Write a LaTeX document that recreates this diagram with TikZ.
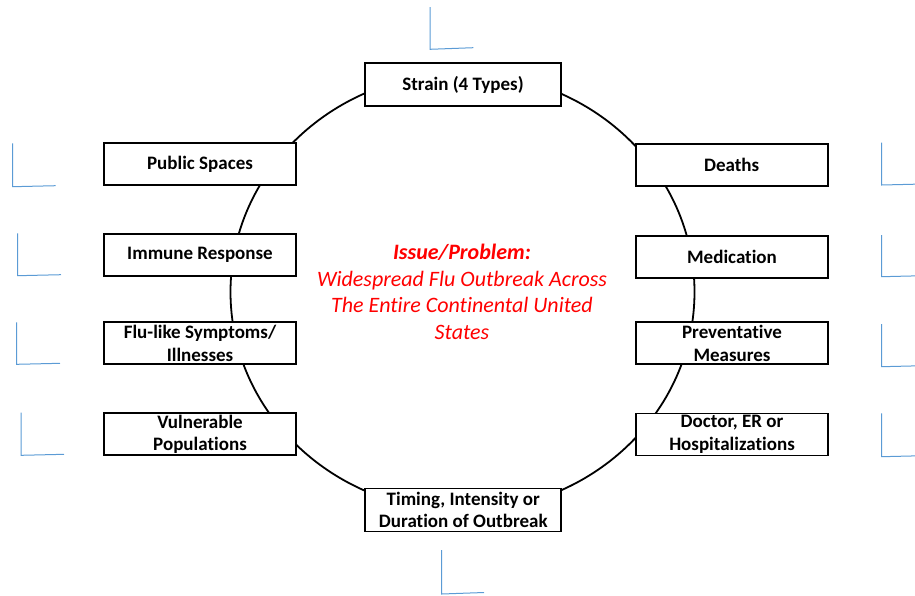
\documentclass[tikz,border=0pt]{standalone}
\usepackage{fontspec}
\setmainfont{Carlito}[Ligatures=NoCommon]
\begin{document}
\begin{tikzpicture}[x=1pt,y=-1pt,
  box/.style={draw=black, line width=1.8pt, fill=white, minimum width=192pt,
    minimum height=42pt, inner sep=0pt, align=center,
    font=\bfseries\fontsize{19}{22.5}\selectfont},
  widebox/.style={box, minimum width=196pt, minimum height=43pt},
  ring/.style={draw=black, line width=1.8pt},
  anchormark/.style={draw={rgb,255:red,91;green,155;blue,213}, line width=1pt},
  issuetext/.style={text={rgb,255:red,255;green,0;blue,0}, align=center,
    font=\itshape\fontsize{22}{26.5}\selectfont}]
\useasboundingbox (0,0) rectangle (915,595);

% ring behind the boxes
\coordinate (hub) at (462.5,292);
\draw[ring] (hub) ellipse [x radius=232, y radius=219];

% central statement
\node[issuetext] (issue) at (462,292)
  {\textbf{Issue/Problem:}\\Widespread Flu Outbreak Across\\The Entire Continental United\\States};

% factor boxes
\node[widebox] (strain) at (463,84.5) {\raisebox{-1.5pt}{Strain (4 Types)}};
\node[widebox] (timing) at (463.3,510) {Timing, Intensity or\\Duration of Outbreak};
\node[box] (public) at (200,164) {\raisebox{-1.5pt}{Public Spaces}};
\node[box] (immune) at (200,254.7) {\raisebox{-1.5pt}{Immune Response}};
\node[box] (flu) at (200,343.3) {Flu-like Symptoms/\\Illnesses};
\node[box] (vuln) at (200,434.2) {Vulnerable\\Populations};
\node[box] (deaths) at (731.7,165) {\raisebox{-1.5pt}{Deaths}};
\node[box] (meds) at (732,257) {\raisebox{-1.5pt}{Medication}};
\node[box] (prev) at (732,343.3) {Preventative\\Measures};
\node[box] (doctor) at (732,434.5) {Doctor, ER or\\Hospitalizations};

% text-box anchor marks
\draw[anchormark] (430,7) -- (430,49.3) -- (473.3,47.7);
\draw[anchormark] (441.7,550) -- (441.7,594) -- (484,592.5);
\draw[anchormark] (12.7,143.3) -- (12.7,186.7) -- (55.7,185.7);
\draw[anchormark] (17.7,233.3) -- (17.7,275.7) -- (61,274.7);
\draw[anchormark] (16.7,322.3) -- (16.7,364.3) -- (60,363.3);
\draw[anchormark] (21,412.7) -- (21,455.3) -- (64,454.3);
\draw[anchormark] (881.7,142.7) -- (881.7,185) -- (915,184.2);
\draw[anchormark] (881.7,235) -- (881.7,276.7) -- (915,275.9);
\draw[anchormark] (881.7,324) -- (881.7,366.7) -- (915,365.9);
\draw[anchormark] (881.7,413.3) -- (881.7,456.7) -- (915,455.9);
\end{tikzpicture}
\end{document}
